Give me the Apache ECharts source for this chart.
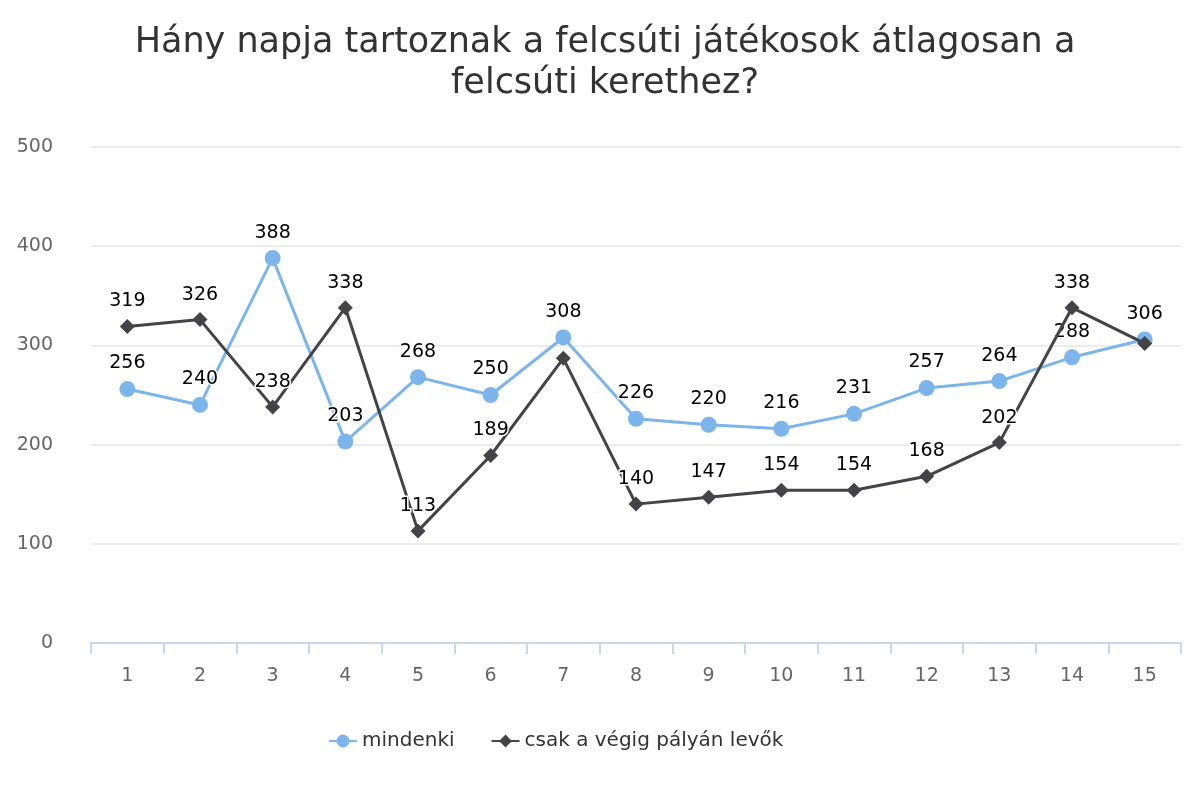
<!DOCTYPE html>
<html>
<head>
<meta charset="utf-8">
<script src="https://cdn.jsdelivr.net/npm/echarts@6/dist/echarts.min.js"></script>
<style>
    html, body { margin: 0; padding: 0; background: #fff; }
    #chart { width: 1200px; height: 800px; }
</style>
</head>
<body>
<div id="chart"></div>
<script>
    const categories = ['1', '2', '3', '4', '5', '6', '7', '8', '9', '10', '11', '12', '13', '14', '15'];
    const mindenki = [256, 240, 388, 203, 268, 250, 308, 226, 220, 216, 231, 257, 264, 288, 306];
    const vegigPalyan = [319, 326, 238, 338, 113, 189, 287, 140, 147, 154, 154, 168, 202, 338, 302];
    // labels that are hidden in the original because of overlap
    const hiddenMindenki = [];
    const hiddenVegig = [6, 14];

    const font = 'DejaVu Sans';

    function withLabels(values, hidden) {
        return values.map((v, i) => hidden.includes(i) ? { value: v, label: { show: false } } : v);
    }

    const chart = echarts.init(document.getElementById('chart'));
    const labelStyle = {
        show: true,
        position: 'top',
        distance: 8,
        fontFamily: font,
        fontSize: 19,
        color: '#000',
        textBorderColor: '#fff',
        textBorderWidth: 3
    };

    chart.setOption({
        animation: false,
        title: {
            text: 'Hány napja tartoznak a felcsúti játékosok átlagosan a\nfelcsúti kerethez?',
            left: 600,
            top: 17,
            textAlign: 'center',
            textStyle: {
                fontFamily: font,
                fontSize: 35,
                fontWeight: 'normal',
                color: '#333',
                lineHeight: 41
            }
        },
        legend: {
            bottom: 44,
            left: 323,
            itemWidth: 28,
            itemHeight: 16,
            itemGap: 36,
            textStyle: { fontFamily: font, fontSize: 20, color: '#333' },
            data: ['mindenki', 'csak a végig pályán levők']
        },
        grid: { left: 91, right: 19, top: 147, bottom: 157 },
        xAxis: {
            type: 'category',
            data: categories,
            boundaryGap: true,
            axisLine: { lineStyle: { color: '#ccd6eb', width: 2 } },
            axisTick: { show: true, length: 11, lineStyle: { color: '#ccd6eb', width: 2 } },
            axisLabel: { fontFamily: font, fontSize: 19, color: '#666', margin: 24 }
        },
        yAxis: {
            type: 'value',
            min: 0,
            max: 500,
            interval: 100,
            axisLine: { show: false },
            axisTick: { show: false },
            splitLine: { lineStyle: { color: '#e6e6e6', width: 1.5 } },
            axisLabel: { fontFamily: font, fontSize: 19, color: '#666', margin: 38, verticalAlign: 'middle', padding: [3, 0, 0, 0] }
        },
        series: [
            {
                name: 'mindenki',
                type: 'line',
                data: withLabels(mindenki, hiddenMindenki),
                symbol: 'circle',
                symbolSize: 16,
                itemStyle: { color: '#7cb5ec' },
                lineStyle: { color: '#7cb5ec', width: 3 },
                label: labelStyle,
                z: 2
            },
            {
                name: 'csak a végig pályán levők',
                type: 'line',
                data: withLabels(vegigPalyan, hiddenVegig),
                symbol: 'diamond',
                symbolSize: 15,
                itemStyle: { color: '#434348' },
                lineStyle: { color: '#434348', width: 3 },
                label: labelStyle,
                z: 3
            }
        ]
    });
</script>
</body>
</html>
